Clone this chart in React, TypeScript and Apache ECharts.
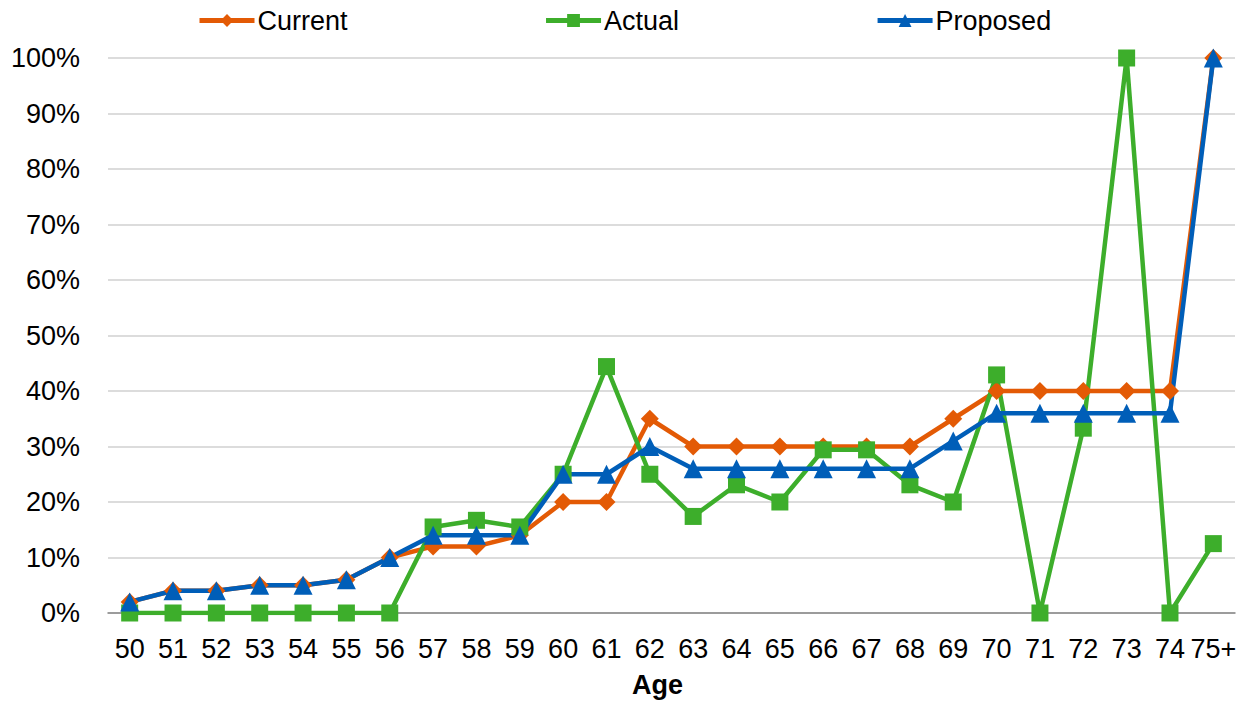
import React, { useEffect, useRef } from "react";
import * as echarts from "echarts";

const ages = ["50","51","52","53","54","55","56","57","58","59","60","61","62","63","64","65","66","67","68","69","70","71","72","73","74","75+"];
const current = [2,4,4,5,5,6,10,12,12,14,20,20,35,30,30,30,30,30,30,35,40,40,40,40,40,100];
const actual = [0,0,0,0,0,0,0,15.5,16.7,15.5,25,44.4,25,17.4,23.1,20,29.4,29.4,23.1,20,42.9,0,33.3,100,0,12.5];
const proposed = [2,4,4,5,5,6,10,14,14,14,25,25,30,26,26,26,26,26,26,31,36,36,36,36,36,100];

const FONT = "'Liberation Sans', Arial, sans-serif";

export default function App() {
  const ref = useRef<HTMLDivElement>(null);
  useEffect(() => {
    const chart = echarts.init(ref.current!, undefined, { renderer: "svg" });
    chart.setOption({
      animation: false,
      textStyle: { fontFamily: FONT },
      legend: {
        left: 192,
        top: 2,
        itemWidth: 55,
        itemHeight: 16,
        itemGap: 196,
        lineStyle: { width: 5 },
        textStyle: { fontSize: 27, color: "#000", fontFamily: FONT, padding: [0, 0, 0, -2] },
        data: ["Current", "Actual", "Proposed"],
      },
      grid: { left: 108, right: 12, top: 58, bottom: 92 },
      xAxis: {
        type: "category",
        data: ages,
        boundaryGap: true,
        axisLine: { lineStyle: { color: "#868686", width: 1.5 } },
        axisTick: { show: false },
        axisLabel: { fontSize: 27, color: "#000", margin: 22, interval: 0, fontFamily: FONT },
        name: "Age",
        nameLocation: "middle",
        nameGap: 58,
        nameTextStyle: { fontSize: 27, fontWeight: "bold", color: "#000", fontFamily: FONT, padding: [0, 28, 0, 0] },
      },
      yAxis: {
        type: "value",
        min: 0,
        max: 100,
        interval: 10,
        axisLine: { show: false },
        axisTick: { show: false },
        axisLabel: { formatter: "{value}%", fontSize: 27, color: "#000", margin: 28, fontFamily: FONT },
        splitLine: { lineStyle: { color: "#D0D0D0", width: 1.5 } },
      },
      series: [
        {
          name: "Current",
          type: "line",
          data: current,
          symbol: "diamond",
          symbolSize: 18,
          lineStyle: { width: 4.5, color: "#E35A05" },
          itemStyle: { color: "#E35A05" },
        },
        {
          name: "Actual",
          type: "line",
          data: actual,
          symbol: "rect",
          symbolSize: 17,
          lineStyle: { width: 4.5, color: "#3DAE2B" },
          itemStyle: { color: "#3DAE2B" },
        },
        {
          name: "Proposed",
          type: "line",
          data: proposed,
          symbol: "triangle",
          symbolSize: 19,
          lineStyle: { width: 4.5, color: "#005EB8" },
          itemStyle: { color: "#005EB8" },
        },
      ],
    });
    return () => chart.dispose();
  }, []);
  return <div ref={ref} style={{ width: 1247, height: 705, position: "absolute", left: 0, top: 0 }} />;
}
